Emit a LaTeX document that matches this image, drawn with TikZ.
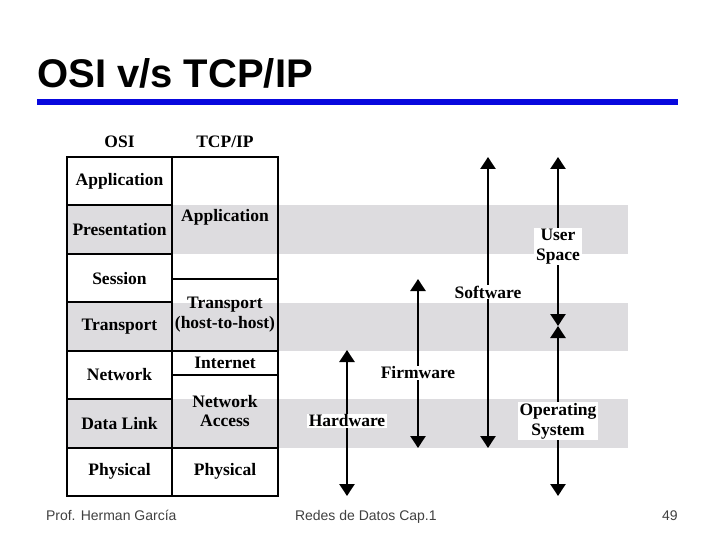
\documentclass[tikz,border=0pt]{standalone}
\usepackage{fontspec}
\setmainfont{Liberation Serif}
\newfontfamily\slidesans{Liberation Sans}
\usetikzlibrary{arrows.meta}
\definecolor{bandgray}{RGB}{221,220,223}
\definecolor{ruleblue}{RGB}{8,8,222}
\definecolor{footgray}{RGB}{64,64,64}

\begin{document}
\begin{tikzpicture}[
    x=1pt,y=-1pt,
    >={Triangle[width=15pt,length=12pt]},
    node font=\fontsize{17.5}{19.5}\selectfont\bfseries,
    cell/.style={draw,line width=2pt,minimum width=105.5pt,inner sep=0pt,align=center},
    tag/.style={fill=white,inner xsep=2pt,inner ysep=1pt,align=center},
    arr/.style={<->,line width=2.5pt},
    foot/.style={font=\normalfont\slidesans\fontsize{14}{16}\selectfont,text=footgray,anchor=base west}
]
\useasboundingbox (0,0) rectangle (720,540);

% title and rule
\node[anchor=base west,inner sep=0pt,font=\normalfont\slidesans\bfseries\fontsize{40}{44}\selectfont] (title) at (37,88) {OSI v/s TCP/IP};
\fill[ruleblue] (37,99) rectangle (678,105);

% shaded layer bands
\fill[bandgray] (67,205.5) rectangle (628,254);
\fill[bandgray] (67,302.5) rectangle (628,350.5);
\fill[bandgray] (67,399) rectangle (628,447.5);

% OSI column
\node (osi) at (119.5,142) {OSI};
\node[cell,minimum height=48.5pt] (osi-app)  at (119.5,181.2) {Application};
\node[cell,minimum height=48.5pt] (osi-pres) at (119.5,229.6) {Presentation};
\node[cell,minimum height=48.5pt] (osi-sess) at (119.5,278.1) {Session};
\node[cell,minimum height=48.5pt] (osi-trans) at (119.5,326.5) {Transport};
\node[cell,minimum height=48.5pt] (osi-net)  at (119.5,374.9) {Network};
\node[cell,minimum height=48.5pt] (osi-link) at (119.5,423.4) {Data Link};
\node[cell,minimum height=48.5pt] (osi-phy)  at (119.5,471.8) {Physical};

% TCP/IP column
\node (tcp) at (225,142) {TCP/IP};
\node[cell,minimum height=121.5pt] (tcp-app)  at (225,217.75) {Application};
\node[cell,minimum height=72pt]    (tcp-trans) at (225,314.5) {Transport\\(host-to-host)};
\node[cell,minimum height=24.5pt]  (tcp-inet) at (225,362.75) {Internet};
\node[cell,minimum height=72.5pt]  (tcp-acc)  at (225,411.25) {Network\\Access};
\node[cell,minimum height=48.5pt]  (tcp-phy)  at (225,471.75) {Physical};

% ranges
\coordinate (hw-top) at (347,350);
\coordinate (hw-bot) at (347,496);
\coordinate (fw-top) at (418,279);
\coordinate (fw-bot) at (418,448);
\coordinate (sw-top) at (488,157);
\coordinate (sw-bot) at (488,448);
\coordinate (us-top) at (558,157);
\coordinate (kernel) at (558,326);
\coordinate (os-bot) at (558,496);
\draw[arr] (hw-top) -- node[tag,pos=0.486] (hw) {Hardware} (hw-bot);
\draw[arr] (fw-top) -- node[tag,pos=0.556] (fw) {Firmware} (fw-bot);
\draw[arr] (sw-top) -- node[tag,pos=0.464] (sw) {Software} (sw-bot);
\draw[arr] (us-top) -- node[tag,pos=0.53] (us) {User\\Space} (kernel);
\draw[arr] (kernel) -- node[tag,pos=0.56] (os) {Operating\\System} (os-bot);

% footer
\node[foot] (author) at (40,520) {Prof. Herman García};
\node[foot] (course) at (289,520) {Redes de Datos Cap.1};
\node[foot] (page) at (656,520) {49};
\end{tikzpicture}
\end{document}
